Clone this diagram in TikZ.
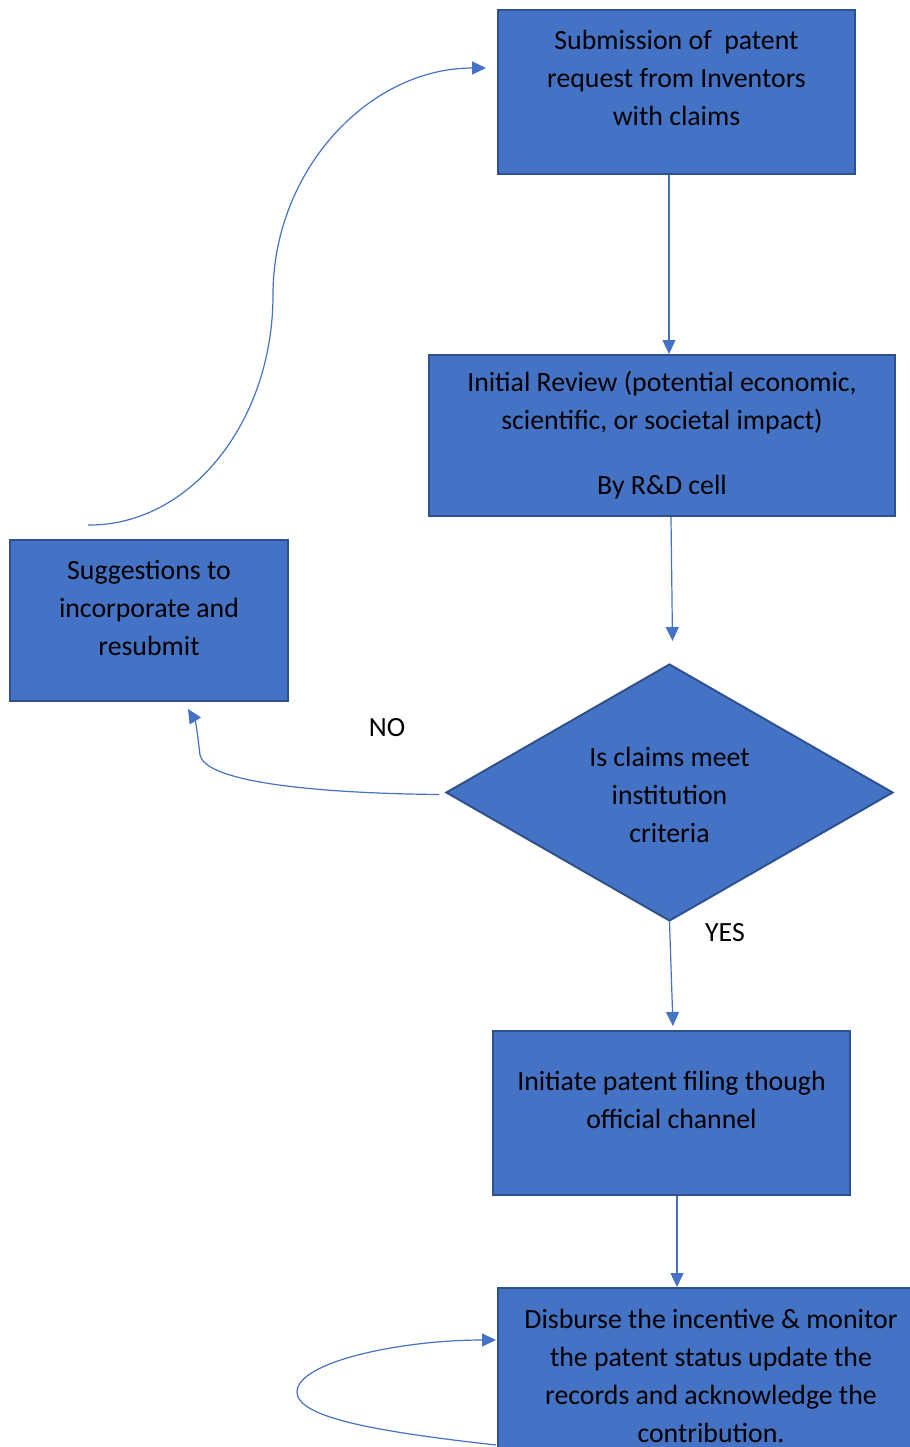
\documentclass[tikz,border=0pt]{standalone}
\usepackage{fontspec}
\setmainfont{Carlito}
\usetikzlibrary{arrows.meta,shapes.geometric,calc}
\definecolor{officeBlue}{HTML}{4472C4}
\definecolor{officeEdge}{HTML}{2F528F}

\begin{document}
\begin{tikzpicture}
[x=0.5pt,y=-0.5pt,
  boxDecorate/.style={shape=rectangle,draw=officeEdge,fill=officeBlue,line width=1pt,inner sep=0pt},
  diamondDecorate/.style={shape=diamond,draw=officeEdge,fill=officeBlue,line width=1pt,inner sep=0pt,
    minimum width=223.5pt,minimum height=128.5pt},
  textDecorate/.style={align=center,font=\fontsize{13.9}{19}\selectfont,text=black,inner sep=0pt},
  lineDecorate/.style={draw=officeBlue,line width=0.6pt,-{Triangle[length=7pt,width=6.5pt]}}]
\useasboundingbox (0,0) rectangle (910,1447);
\clip (0,0) rectangle (910,1447);
%% boxes
\foreach \nodename/\x/\y/\w/\h in {
  sub/676.5/92/357/164,
  review/662/435.5/466/161,
  suggest/149/620.5/278/161,
  filing/671.5/1113/357/164,
  disburse/711/1370/426/164}
{
  \node (\nodename) at (\x,\y) [boxDecorate,minimum width=\w*0.5pt,minimum height=\h*0.5pt] {};
}
\node (crit) at (669.5,792.5) [diamondDecorate] {};
%% texts
\node (subtext) at (676.5,78) [textDecorate] {Submission of\ \ patent\\request from Inventors\\with claims};
\node (reviewtext) at (662,435.5) [textDecorate] {Initial Review (potential economic,\\scientific, or societal impact)\\[13.5pt]By R\&D cell};
\node (suggesttext) at (149,608) [textDecorate] {Suggestions to\\incorporate and\\resubmit};
\node (crittext) at (669.5,795) [textDecorate] {Is claims meet\\institution\\criteria};
\node (filingtext) at (671.5,1100) [textDecorate] {Initiate patent filing though\\official channel};
\node (disbursetext) at (711,1375.5) [textDecorate] {Disburse the incentive \& monitor\\the patent status update the\\records and acknowledge the\\contribution.};
\node (no) at (387,728) [textDecorate] {NO};
\node (yes) at (725,933) [textDecorate] {YES};
%% connectors
\coordinate (subout) at ($(sub.south)+(-7.5,0)$);
\draw[lineDecorate] (subout) -- (subout |- review.north);
\draw[lineDecorate] ($(review.south)+(9,0)$) -- ($(crit.north)+(3,-22)$);
\draw[lineDecorate] ($(crit.west)+(-6,2)$) .. controls (300,793) and (205,780) .. (200,755)
  .. controls (198,738) and (196,722) .. ($(suggest.south)+(39,7)$);
\draw[lineDecorate] (crit.south) -- ($(filing.north)+(1.5,-4)$);
\coordinate (filingout) at ($(filing.south)+(5.5,0)$);
\draw[lineDecorate] (filingout) -- (filingout |- disburse.north);
\draw[lineDecorate] ($(suggest.north)+(-61,-14)$) .. controls (190,526) and (273,422) .. (273,295)
  .. controls (273,170) and (369,68) .. ($(sub.west)+(-11,-24)$);
\draw[lineDecorate] ($(disburse.west)+(-1,75)$) .. controls (380,1432) and (297,1418) .. (297,1392)
  .. controls (297,1362) and (400,1340) .. ($(disburse.west)+(-1,-30)$);
\end{tikzpicture}
\end{document}
